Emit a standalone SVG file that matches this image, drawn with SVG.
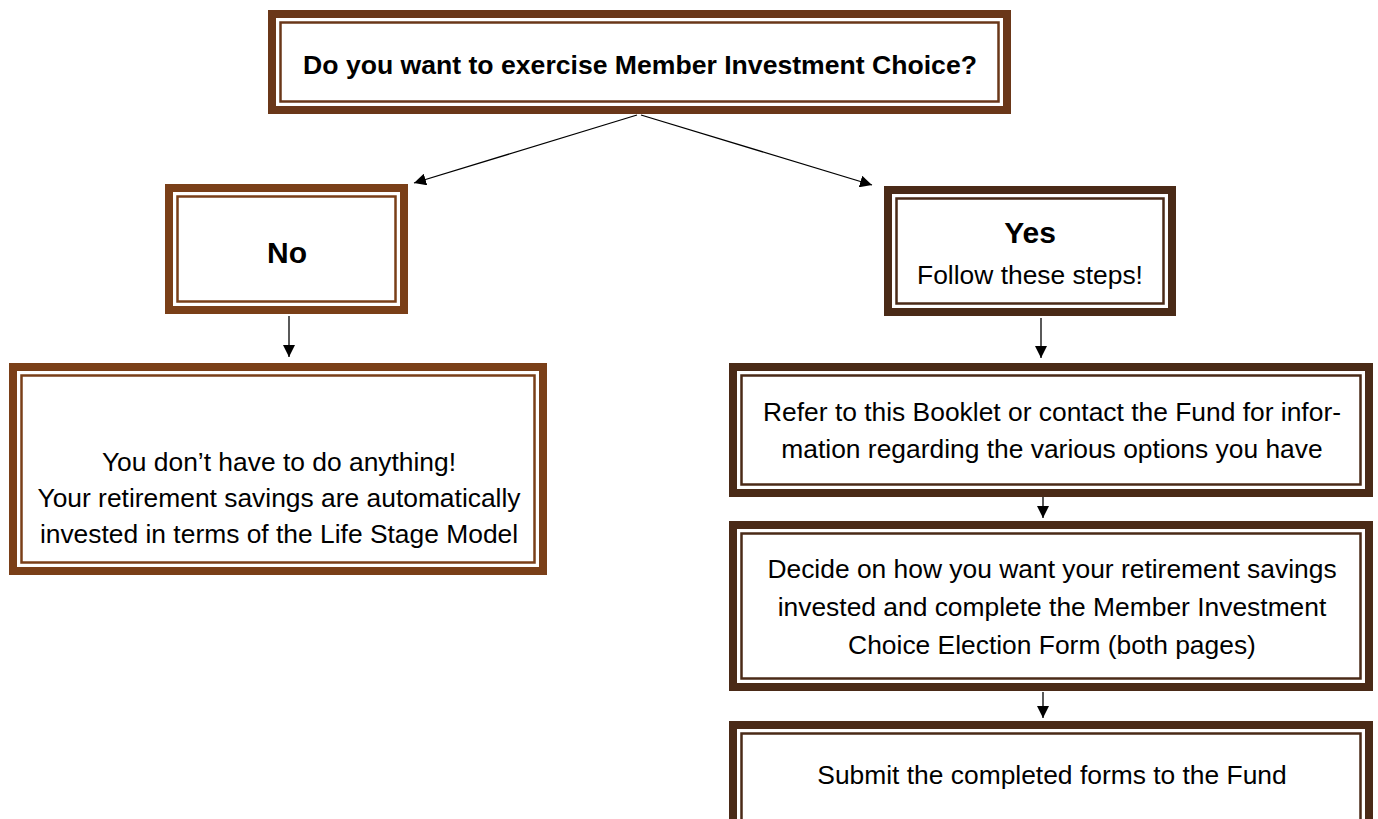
<svg xmlns="http://www.w3.org/2000/svg" width="1378" height="819" viewBox="0 0 1378 819">
<style>
.o{fill:none;stroke-width:8}
.i{fill:#fff;stroke-width:2.5}
.a{stroke:#6a3719}
.b{stroke:#7a3f18}
.c{stroke:#4a2a17}
text{font-family:"Liberation Sans",Arial,sans-serif;fill:#000;text-anchor:middle}
.t{font-size:26.4px}
.bd{font-weight:bold}
.ln{stroke:#000;stroke-width:1.3;fill:none}
</style>
<defs>
<marker id="ah" viewBox="0 0 10 10" refX="10" refY="5" markerWidth="12" markerHeight="12" markerUnits="userSpaceOnUse" orient="auto">
<path d="M0,0 L10,5 L0,10 z" fill="#000"/>
</marker>
</defs>
<rect width="1378" height="819" fill="#fff"/>
<g id="connectors">
<line class="ln" x1="637" y1="115" x2="414" y2="183" marker-end="url(#ah)"/>
<line class="ln" x1="641" y1="115" x2="872" y2="185" marker-end="url(#ah)"/>
<line class="ln" x1="289" y1="316" x2="289" y2="357" marker-end="url(#ah)"/>
<line class="ln" x1="1041" y1="318" x2="1041" y2="358" marker-end="url(#ah)"/>
<line class="ln" x1="1043" y1="497" x2="1043" y2="518" marker-end="url(#ah)"/>
<line class="ln" x1="1043" y1="692" x2="1043" y2="718" marker-end="url(#ah)"/>
</g>
<g id="q">
<rect class="o a" x="272" y="14" width="735" height="96"/>
<rect class="i a" x="280.5" y="22.5" width="718" height="79"/>
<text class="bd" x="640" y="74" font-size="26.6">Do you want to exercise Member Investment Choice?</text>
</g>
<g id="no">
<rect class="o b" x="169" y="188" width="235" height="122"/>
<rect class="i b" x="177.5" y="196.5" width="218" height="105"/>
<text class="bd" x="287" y="263" font-size="30">No</text>
</g>
<g id="noinfo">
<rect class="o b" x="13" y="367" width="530" height="204"/>
<rect class="i b" x="21.5" y="375.5" width="513" height="187"/>
<text class="t" x="279" y="471">You don’t have to do anything!</text>
<text class="t" x="279" y="507">Your retirement savings are automatically</text>
<text class="t" x="279" y="543">invested in terms of the Life Stage Model</text>
</g>
<g id="yes">
<rect class="o c" x="888" y="190" width="284" height="122"/>
<rect class="i c" x="896.5" y="198.5" width="267" height="105"/>
<text class="bd" x="1030" y="243" font-size="30">Yes</text>
<text class="t" x="1030" y="284">Follow these steps!</text>
</g>
<g id="step1">
<rect class="o c" x="733" y="367" width="636" height="126"/>
<rect class="i c" x="741.5" y="375.5" width="619" height="109"/>
<text class="t" x="1052" y="421">Refer to this Booklet or contact the Fund for infor-</text>
<text class="t" x="1052" y="458">mation regarding the various options you have</text>
</g>
<g id="step2">
<rect class="o c" x="733" y="525" width="636" height="162"/>
<rect class="i c" x="741.5" y="533.5" width="619" height="145"/>
<text class="t" x="1052" y="578">Decide on how you want your retirement savings</text>
<text class="t" x="1052" y="616">invested and complete the Member Investment</text>
<text class="t" x="1052" y="654">Choice Election Form (both pages)</text>
</g>
<g id="step3">
<rect class="o c" x="733" y="725" width="636" height="120"/>
<rect class="i c" x="741.5" y="733.5" width="619" height="103"/>
<text class="t" x="1052" y="784">Submit the completed forms to the Fund</text>
</g>
</svg>
